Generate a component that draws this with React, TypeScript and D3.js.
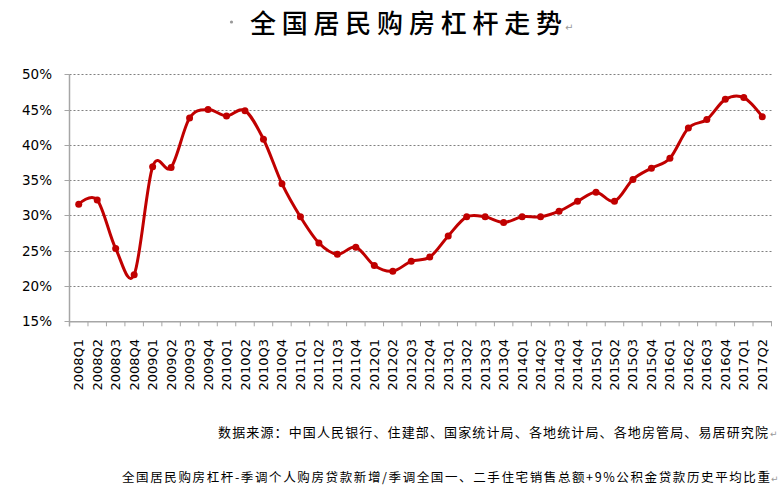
import React from "react";
import * as d3 from "d3";

const quarters = [
  "2008Q1","2008Q2","2008Q3","2008Q4","2009Q1","2009Q2","2009Q3","2009Q4",
  "2010Q1","2010Q2","2010Q3","2010Q4","2011Q1","2011Q2","2011Q3","2011Q4",
  "2012Q1","2012Q2","2012Q3","2012Q4","2013Q1","2013Q2","2013Q3","2013Q4",
  "2014Q1","2014Q2","2014Q3","2014Q4","2015Q1","2015Q2","2015Q3","2015Q4",
  "2016Q1","2016Q2","2016Q3","2016Q4","2017Q1","2017Q2",
];
const leverage = [
  31.6, 32.2, 25.3, 21.6, 36.9, 36.8, 43.8, 45.0,
  44.1, 44.85, 40.8, 34.5, 29.8, 26.1, 24.5, 25.5,
  22.9, 22.1, 23.5, 24.1, 27.1, 29.8, 29.8, 29.0,
  29.8, 29.8, 30.6, 32.0, 33.3, 32.0, 35.1, 36.7,
  38.1, 42.4, 43.6, 46.45, 46.7, 44.0,
];
const yTicks = [15, 20, 25, 30, 35, 40, 45, 50];
const titleText = "全国居民购房杠杆走势";
const sourceText = "数据来源：中国人民银行、住建部、国家统计局、各地统计局、各地房管局、易居研究院";
const noteText = "全国居民购房杠杆-季调个人购房贷款新增/季调全国一、二手住宅销售总额+9%公积金贷款历史平均比重";

export default function App() {
  const W = 780, H = 491;
  const left = 69.5, right = 771.5, top = 74.3, bottom = 321.3;
  const x = d3.scaleBand<string>().domain(quarters).range([left, right]);
  const y = d3.scaleLinear().domain([15, 50]).range([bottom, top]);
  const cx = (q: string) => (x(q) as number) + x.bandwidth() / 2;
  const pts: [number, number][] = quarters.map((q, i) => [cx(q), y(leverage[i])]);
  const line = d3.line<[number, number]>().x(d => d[0]).y(d => d[1]).curve(d3.curveCardinal.tension(0));
  const tickXs = quarters.map(q => x(q) as number).concat([right]);
  const font = "'DejaVu Sans', Verdana, sans-serif";
  const cjk = "'Noto Sans CJK SC', sans-serif";
  return (
    <svg width={W} height={H} style={{ position: "absolute", left: 0, top: 0, background: "#fff" }}>
      <rect x={0} y={0} width={W} height={H} fill="#fff" />
      {/* title */}
      <circle cx={231.5} cy={22} r={1.6} fill="#999" />
      <text x={250} y={33} fontFamily={cjk} fontSize={26} fontWeight={500} fill="#000" textLength={312} lengthAdjust="spacing">{titleText}</text>
      <text x={565} y={31} fontFamily={font} fontSize={10} fill="#999">↵</text>
      {/* gridlines */}
      {yTicks.map(t => (
        <line key={"g" + t} x1={left} x2={right} y1={Math.round(y(t)) + 0.5} y2={Math.round(y(t)) + 0.5}
          stroke="#808080" strokeWidth={1} strokeDasharray={t === 15 ? undefined : "2,2"} />
      ))}
      {/* y-axis */}
      <line x1={left} x2={left} y1={top} y2={bottom + 5} stroke="#a6a6a6" strokeWidth={1.5} />
      {yTicks.map(t => (
        <line key={"yt" + t} x1={left - 5} x2={left} y1={Math.round(y(t)) + 0.5} y2={Math.round(y(t)) + 0.5} stroke="#a6a6a6" strokeWidth={1} />
      ))}
      {yTicks.map(t => (
        <text key={"yl" + t} x={52} y={y(t) + 5} textAnchor="end" fontFamily={font} fontSize={13.5} fill="#000">{t}%</text>
      ))}
      {/* x-axis */}
      <line x1={left} x2={right} y1={bottom + 0.5} y2={bottom + 0.5} stroke="#a6a6a6" strokeWidth={1.5} />
      {tickXs.map((tx, i) => (
        <line key={"xt" + i} x1={tx} x2={tx} y1={bottom} y2={bottom + 5} stroke="#a6a6a6" strokeWidth={1} />
      ))}
      {quarters.map(q => (
        <text key={"xl" + q} transform={`translate(${cx(q) + 4.5},339) rotate(-90)`} textAnchor="end"
          fontFamily={font} fontSize={13} fill="#000">{q}</text>
      ))}
      {/* series */}
      <path d={line(pts) as string} fill="none" stroke="#c00000" strokeWidth={3} strokeLinejoin="round" />
      {pts.map((p, i) => (
        <circle key={"p" + i} cx={p[0]} cy={p[1]} r={3.5} fill="#c00000" />
      ))}
      {/* notes */}
      <text x={218} y={437} fontFamily={cjk} fontSize={13} fill="#000" textLength={550} lengthAdjust="spacing">{sourceText}</text>
      <text x={770} y={437} fontFamily={font} fontSize={9} fill="#999">↵</text>
      <text x={122} y={482} fontFamily={cjk} fontSize={12.5} fill="#000" textLength={648} lengthAdjust="spacing">{noteText}</text>
      <text x={771} y={482} fontFamily={font} fontSize={9} fill="#999">↵</text>
    </svg>
  );
}
